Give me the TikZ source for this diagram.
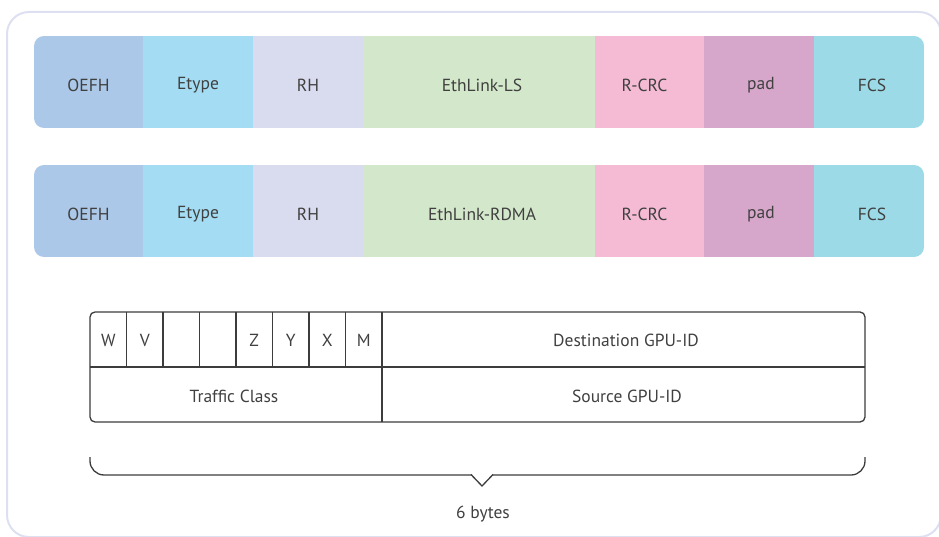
\documentclass[tikz,border=0pt]{standalone}
\usepackage{fontspec}
\setmainfont{PT Sans}
\begin{document}
\definecolor{frameC}{HTML}{DDE0F0}
\definecolor{txt}{HTML}{404040}
\definecolor{lineC}{HTML}{3C3C3C}
\definecolor{cOEFH}{HTML}{ABC8E8}
\definecolor{cEtype}{HTML}{A4DDF3}
\definecolor{cRH}{HTML}{D9DBEE}
\definecolor{cLink}{HTML}{D3E7CB}
\definecolor{cCRC}{HTML}{F5BBD5}
\definecolor{cPad}{HTML}{D7A7CB}
\definecolor{cFCS}{HTML}{9BDAE6}
\begin{tikzpicture}[x=1pt,y=-1pt,
  seg/.style={draw=none,inner sep=0pt,minimum height=92pt},
  cell/.style={inner sep=0pt,text=txt,font=\fontsize{17.5}{20}\selectfont},
  tline/.style={draw=lineC,line width=1.3pt}]
\useasboundingbox (0,0) rectangle (939,537);
% outer frame
\draw[frameC,line width=2pt,rounded corners=22pt] (7,12) rectangle (941,537);

% first frame layout
\begin{scope}
\clip[rounded corners=10pt] (34,36) rectangle (924,128);
\node[seg,fill=cOEFH,minimum width=109.5pt] (a1) at (88.5,82) {};
\node[seg,fill=cEtype,minimum width=110.5pt] (a2) at (198,82) {};
\node[seg,fill=cRH,minimum width=110.5pt] (a3) at (308,82) {};
\node[seg,fill=cLink,minimum width=232.5pt] (a4) at (479,82) {};
\node[seg,fill=cCRC,minimum width=109.5pt] (a5) at (649.5,82) {};
\node[seg,fill=cPad,minimum width=110.5pt] (a6) at (759,82) {};
\node[seg,fill=cFCS,minimum width=110.5pt] (a7) at (869,82) {};
\end{scope}
\node[cell] at ([yshift=-3pt]a1.center) {OEFH};
\node[cell] at ([yshift=-3pt]a2.center) {Etype};
\node[cell] at ([yshift=-3pt]a3.center) {RH};
\node[cell] at ([xshift=3pt,yshift=-3pt]a4.center) {EthLink-LS};
\node[cell] at ([xshift=-5pt,yshift=-3pt]a5.center) {R-CRC};
\node[cell] at ([xshift=2pt,yshift=-3pt]a6.center) {pad};
\node[cell] at ([xshift=3pt,yshift=-3pt]a7.center) {FCS};

% second frame layout
\begin{scope}
\clip[rounded corners=10pt] (34,165) rectangle (924,257);
\node[seg,fill=cOEFH,minimum width=109.5pt] (b1) at (88.5,211) {};
\node[seg,fill=cEtype,minimum width=110.5pt] (b2) at (198,211) {};
\node[seg,fill=cRH,minimum width=110.5pt] (b3) at (308,211) {};
\node[seg,fill=cLink,minimum width=232.5pt] (b4) at (479,211) {};
\node[seg,fill=cCRC,minimum width=109.5pt] (b5) at (649.5,211) {};
\node[seg,fill=cPad,minimum width=110.5pt] (b6) at (759,211) {};
\node[seg,fill=cFCS,minimum width=110.5pt] (b7) at (869,211) {};
\end{scope}
\node[cell] at ([yshift=-3pt]b1.center) {OEFH};
\node[cell] at ([yshift=-3pt]b2.center) {Etype};
\node[cell] at ([yshift=-3pt]b3.center) {RH};
\node[cell] at ([xshift=3pt,yshift=-3pt]b4.center) {EthLink-RDMA};
\node[cell] at ([xshift=-5pt,yshift=-3pt]b5.center) {R-CRC};
\node[cell] at ([xshift=2pt,yshift=-3pt]b6.center) {pad};
\node[cell] at ([xshift=3pt,yshift=-3pt]b7.center) {FCS};

% routing header table
\draw[tline,rounded corners=5pt] (90,312) rectangle (865,422);
\draw[tline] (90,367) -- (865,367);
\draw[tline] (382,312) -- (382,422);
\foreach \i in {1,...,7} {
  \draw[tline] ({90+\i*36.5},312) -- ({90+\i*36.5},367);
}
\foreach \lbl [count=\i from 0] in {W,V,,,Z,Y,X,M} {
  \node[cell] (f\i) at ({108.25+\i*36.5},340) {\lbl};
}
\node[cell] (dst) at (626,340) {Destination GPU-ID};
\node[cell] (tc) at (234,396) {Traffic Class};
\node[cell] (src) at (627,396) {Source GPU-ID};

% size brace
\coordinate (bl) at (90,457);
\coordinate (br) at (865,457);
\coordinate (tip) at (482,486);
\draw[tline,rounded corners=14pt] (bl) -- (90,475) -- (472,475);
\draw[tline,rounded corners=14pt] (br) -- (865,475) -- (492,475);
\draw[tline,line join=miter] (471,474.5) -- (tip) -- (493,474.5);
\node[cell] (size) at (483,514) {6 bytes};
\end{tikzpicture}
\end{document}
